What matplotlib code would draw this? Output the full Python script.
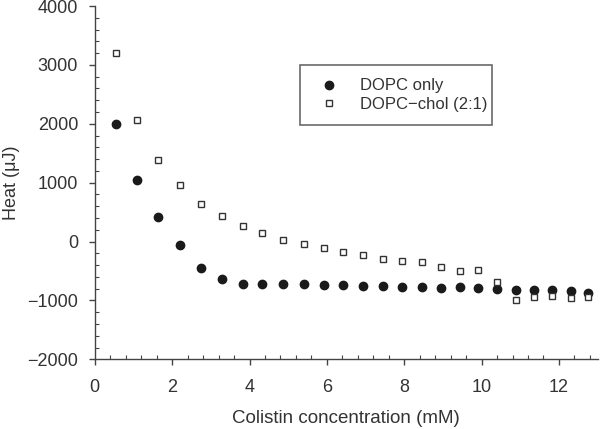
import matplotlib
matplotlib.use("Agg")
import matplotlib.pyplot as plt
from matplotlib.ticker import MultipleLocator

plt.rcParams['font.family'] = ['Liberation Sans', 'DejaVu Sans']

x_dopc = [0.55, 1.10, 1.64, 2.19, 2.75, 3.28, 3.82, 4.33, 4.87, 5.41, 5.92, 6.42,
          6.94, 7.44, 7.95, 8.45, 8.95, 9.43, 9.91, 10.41, 10.88, 11.36, 11.83, 12.30, 12.76]
y_dopc = [2000, 1040, 425, -56, -442, -640, -725, -720, -720, -725, -730, -735,
          -748, -760, -765, -770, -790, -780, -790, -805, -815, -820, -825, -840, -870]
x_chol = [0.55, 1.10, 1.64, 2.19, 2.75, 3.28, 3.82, 4.33, 4.87, 5.41, 5.92, 6.42,
          6.94, 7.44, 7.95, 8.45, 8.95, 9.43, 9.91, 10.41, 10.88, 11.36, 11.83, 12.30, 12.76]
y_chol = [3200, 2070, 1378, 957, 641, 442, 272, 141, 29, -39, -113, -181,
          -232, -295, -335, -352, -425, -505, -488, -680, -986, -941, -930, -964, -947]

fig = plt.figure(figsize=(6, 4.29), dpi=100)
ax = fig.add_axes([0.158, 0.1625, 0.838, 0.8235])

ax.plot(x_dopc, y_dopc, 'o', color='#1a1a1a', markersize=6, label='DOPC only', clip_on=False)
ax.plot(x_chol, y_chol, 's', markerfacecolor='white', markeredgecolor='#333333',
        markeredgewidth=1.0, markersize=4.2, label='DOPC\u2212chol (2:1)', clip_on=False)

ax.set_xlim(0, 13)
ax.set_ylim(-2000, 4000)
ax.xaxis.set_major_locator(MultipleLocator(2))
ax.xaxis.set_minor_locator(MultipleLocator(0.4))
ax.yaxis.set_major_locator(MultipleLocator(1000))
ax.yaxis.set_minor_locator(MultipleLocator(200))

for s in ['top', 'right']:
    ax.spines[s].set_visible(False)
for s in ['left', 'bottom']:
    ax.spines[s].set_color('#444444')
    ax.spines[s].set_linewidth(1.0)

ax.tick_params(which='major', direction='out', length=4, width=1, color='#444444',
               labelsize=13, labelcolor='#333333')
ax.tick_params(axis='x', which='major', pad=10)
ax.tick_params(axis='y', which='major', pad=8)
ax.tick_params(which='minor', direction='in', length=3, width=0.8, color='#444444')

ax.set_xlabel('Colistin concentration (mM)', fontsize=13.5, color='#333333')
ax.set_ylabel('Heat (\u03bcJ)', fontsize=13, color='#333333')
ax.xaxis.set_label_coords(0.5, -0.143)
ax.yaxis.set_label_coords(-0.148, 0.5)

leg = ax.legend(loc='upper left', bbox_to_anchor=(0.409, 0.833, 0.381, 0.0), mode='expand',
                fontsize=12, frameon=True, fancybox=False, borderpad=0.8,
                labelspacing=0.2, handletextpad=1.0, handlelength=1.8, borderaxespad=0)
leg.get_frame().set_edgecolor('#444444')
leg.get_frame().set_linewidth(1.2)
for t in leg.get_texts():
    t.set_color('#333333')

fig.savefig('out.png', dpi=100)
